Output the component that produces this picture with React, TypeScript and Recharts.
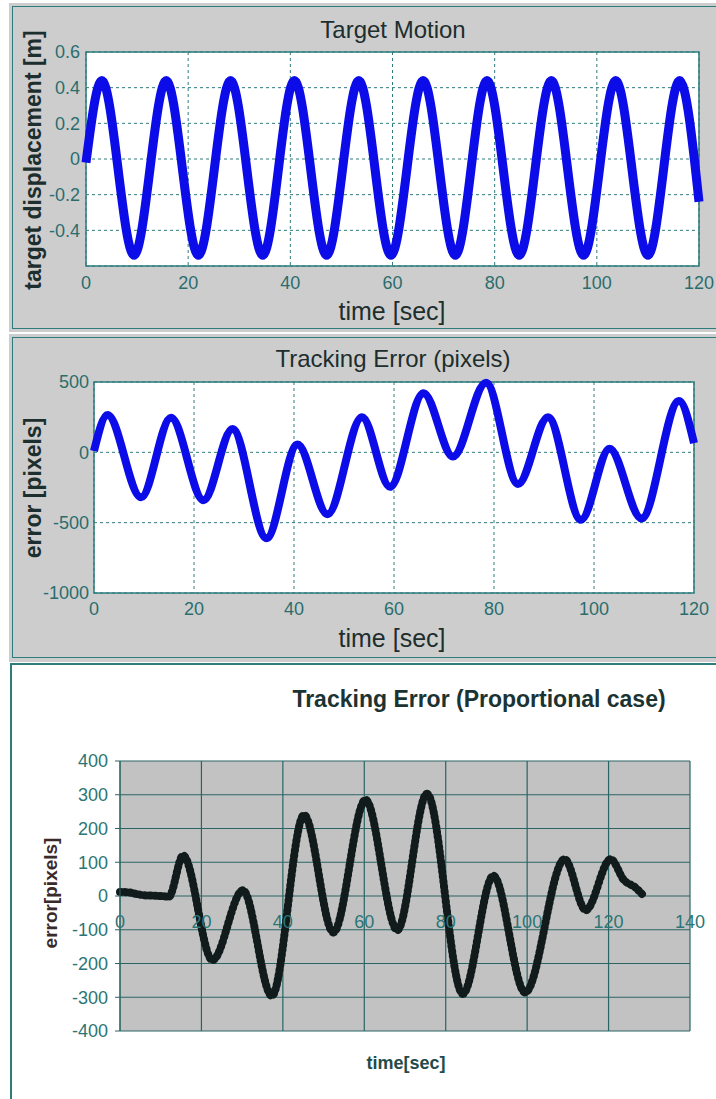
import { CartesianGrid, Line, LineChart, ReferenceArea, XAxis, YAxis } from 'recharts'

// target motion (m) - extrema
const targetTime = [0, 3.1, 9.4, 15.7, 22.0, 28.3, 34.6, 40.8, 47.1, 53.4, 59.7, 66.0, 72.3, 78.5, 84.8, 91.1, 97.4, 103.7, 110.0, 116.2, 120]
const targetDisp = [-0.02, 0.44, -0.54, 0.44, -0.54, 0.44, -0.54, 0.44, -0.54, 0.44, -0.54, 0.44, -0.54, 0.44, -0.54, 0.44, -0.54, 0.44, -0.54, 0.44, -0.24]

// tracking error (pixels)
const errorTime = [0, 2.7, 9.4, 15.4, 21.9, 27.7, 34.5, 40.7, 46.7, 53.6, 59.2, 65.9, 71.8, 78.4, 84.8, 90.8, 97.4, 103.1, 109.5, 117.0, 120]
const errorPixels = [10, 265, -320, 245, -340, 165, -610, 55, -440, 250, -245, 420, -30, 495, -225, 250, -480, 25, -470, 365, 65]

// tracking error, proportional case
const propTime = [0, 2, 4, 6, 8, 10, 12, 15.5, 22.7, 30.2, 37.3, 45.2, 52.4, 60.3, 68.1, 75.4, 84.2, 91.7, 99.5, 109.2, 114.4, 120.5, 123.8, 126.6, 128.2]
const propError = [12, 11, 6, 2, 1, 0, -2, 120, -190, 17, -296, 240, -108, 285, -101, 303, -290, 60, -286, 109, -42, 109, 47, 25, 6]

const timeTicks = [0, 20, 40, 60, 80, 100, 120]
const dispTicks = [-0.4, -0.2, 0, 0.2, 0.4, 0.6]
const errorTicks = [-1000, -500, 0, 500]
const propTimeTicks = [0, 20, 40, 60, 80, 100, 120, 140]
const propErrorTicks = [-400, -300, -200, -100, 0, 100, 200, 300, 400]

const FONT = '"Liberation Sans", Arial, Helvetica, sans-serif'
const TEAL = '#2e7c7c'
const BLUE = '#0c0ce8'
const PANEL_GRAY = '#cdcdcd'

const targetData = targetTime.map((t, i) => ({ t, v: targetDisp[i] }))
const errorData = errorTime.map((t, i) => ({ t, v: errorPixels[i] }))
const propData = propTime.map((t, i) => ({ t, v: propError[i] }))

const PLOT3_HEIGHT = 270

function ZeroAxisTick(props: any) {
  const { x, y, payload } = props
  // excel draws the category labels just under the zero line
  return (
    <text
      x={x}
      y={y - PLOT3_HEIGHT / 2 + 26}
      textAnchor="middle"
      dominantBaseline="central"
      fontSize={18}
      fontFamily={FONT}
      fill="#2b7676"
    >
      {payload.value}
    </text>
  )
}

function Label(props: { x: number; y: number; text: string; size: number; bold?: boolean; rotate?: boolean; color?: string }) {
  return (
    <div
      style={{
        position: 'absolute',
        left: props.x,
        top: props.y,
        transform: `translate(-50%, -50%)${props.rotate ? ' rotate(-90deg)' : ''}`,
        fontSize: props.size,
        fontWeight: props.bold ? 'bold' : 'normal',
        color: props.color ?? '#1d2e2e',
        whiteSpace: 'nowrap',
        lineHeight: 1,
        fontFamily: FONT,
      }}
    >
      {props.text}
    </div>
  )
}

const matlabTick = { fontSize: 18, fill: '#2b6d6d', fontFamily: FONT }

export default function App() {
  return (
    <div style={{ position: 'absolute', left: 0, top: 0, width: 716, height: 1099, background: '#fff' }}>
      {/* panel 1 */}
      <div style={{ position: 'absolute', left: 9, top: 3, width: 707, height: 329, background: PANEL_GRAY }} />
      <div style={{ position: 'absolute', left: 12, top: 6, width: 710, height: 321, border: `1.5px solid ${TEAL}` }} />
      <div style={{ position: 'absolute', left: 0, top: 0 }}>
        <LineChart width={716} height={330} data={targetData} margin={{ top: 52, right: 17, left: 26, bottom: 24 }}>
          <CartesianGrid stroke={TEAL} strokeDasharray="3 3" fill="#fff" />
          <XAxis
            dataKey="t"
            type="number"
            domain={[0, 120]}
            ticks={timeTicks}
            height={40}
            tickSize={0}
            tickMargin={10}
            axisLine={false}
            tick={matlabTick}
          />
          <YAxis
            type="number"
            domain={[-0.6, 0.6]}
            ticks={dispTicks}
            width={60}
            tickSize={0}
            tickMargin={6}
            axisLine={false}
            tick={matlabTick}
          />
          <ReferenceArea x1={0} x2={120} y1={-0.6} y2={0.6} fill="none" stroke={TEAL} strokeWidth={1.5} />
          <Line dataKey="v" type="monotone" stroke={BLUE} strokeWidth={9} dot={false} isAnimationActive={false} />
        </LineChart>
      </div>
      <Label x={393} y={30} text="Target Motion" size={24} />
      <Label x={392} y={311} text="time [sec]" size={25} />
      <Label x={33} y={160} text="target displacement [m]" size={23} bold rotate />

      {/* panel 2 */}
      <div style={{ position: 'absolute', left: 9, top: 334, width: 707, height: 328, background: PANEL_GRAY }} />
      <div style={{ position: 'absolute', left: 12, top: 337, width: 710, height: 319, border: `1.5px solid ${TEAL}` }} />
      <div style={{ position: 'absolute', left: 0, top: 333 }}>
        <LineChart width={716} height={330} data={errorData} margin={{ top: 49, right: 22, left: 34, bottom: 30 }}>
          <CartesianGrid stroke={TEAL} strokeDasharray="3 3" fill="#fff" />
          <XAxis
            dataKey="t"
            type="number"
            domain={[0, 120]}
            ticks={timeTicks}
            height={40}
            tickSize={0}
            tickMargin={9}
            axisLine={false}
            tick={matlabTick}
          />
          <YAxis
            type="number"
            domain={[-1000, 500]}
            ticks={errorTicks}
            width={60}
            tickSize={0}
            tickMargin={5}
            axisLine={false}
            tick={matlabTick}
          />
          <ReferenceArea x1={0} x2={120} y1={-1000} y2={500} fill="none" stroke={TEAL} strokeWidth={1.5} />
          <Line dataKey="v" type="monotone" stroke={BLUE} strokeWidth={8} dot={false} isAnimationActive={false} />
        </LineChart>
      </div>
      <Label x={393} y={359} text="Tracking Error (pixels)" size={24} />
      <Label x={392} y={638} text="time [sec]" size={25} />
      <Label x={33} y={488} text="error [pixels]" size={23} bold rotate />

      {/* panel 3 */}
      <div style={{ position: 'absolute', left: 10, top: 663, width: 710, height: 440, borderLeft: `2px solid ${TEAL}`, borderTop: `2px solid ${TEAL}` }} />
      <div style={{ position: 'absolute', left: 0, top: 663 }}>
        <LineChart width={716} height={436} data={propData} margin={{ top: 98, right: 26, left: 60, bottom: 28 }}>
          <CartesianGrid stroke="#2a6565" strokeWidth={1.2} fill="#c2c2c2" />
          <XAxis
            dataKey="t"
            type="number"
            domain={[0, 140]}
            ticks={propTimeTicks}
            height={40}
            tickSize={0}
            tickMargin={0}
            axisLine={false}
            tick={<ZeroAxisTick />}
          />
          <YAxis
            type="number"
            domain={[-400, 400]}
            ticks={propErrorTicks}
            width={60}
            tickSize={5}
            tickMargin={7}
            stroke="#2a6565"
            tick={{ fontSize: 18, fill: '#2b7676', fontFamily: FONT }}
          />
          <Line dataKey="v" type="monotone" stroke="#111b1b" strokeWidth={5} dot={false} isAnimationActive={false} />
          <Line
            dataKey="v"
            type="monotone"
            stroke="#111b1b"
            strokeWidth={8}
            strokeDasharray="1 4"
            strokeLinecap="round"
            dot={false}
            isAnimationActive={false}
          />
        </LineChart>
      </div>
      <Label x={479} y={699} text="Tracking Error  (Proportional case)" size={23} bold color="#1c3333" />
      <Label x={406} y={1063} text="time[sec]" size={18} bold color="#244a4a" />
      <Label x={50} y={893} text="error[pixels]" size={19} bold color="#3a2a2a" rotate />
    </div>
  )
}
